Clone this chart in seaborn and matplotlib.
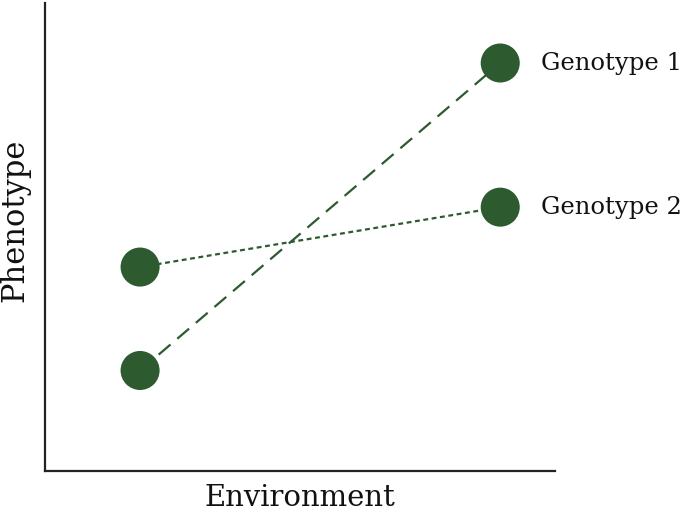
import pandas as pd
import matplotlib.pyplot as plt
import seaborn as sns

# data
environment = [0, 1]
genotype_1 = [2.15, 8.72]
genotype_2 = [4.36, 5.64]
genotypes = ["Genotype 1", "Genotype 2"]

df = pd.DataFrame({
    "Environment": environment * 2,
    "Phenotype": genotype_1 + genotype_2,
    "Genotype": [genotypes[0]] * 2 + [genotypes[1]] * 2,
})

green = "#2d5a2f"

sns.set_style("white")
plt.rcParams['font.family'] = ['DejaVu Serif']

fig = plt.figure(figsize=(6.85, 5.16), dpi=100)
ax = fig.add_axes([0.0657, 0.087, 0.745, 0.907])

dash_styles = {"Genotype 1": (0, (7, 4)), "Genotype 2": (0, (2.2, 1.6))}
for g in genotypes:
    sub = df[df["Genotype"] == g]
    sns.lineplot(data=sub, x="Environment", y="Phenotype", color=green,
                 linewidth=1.6, linestyle=dash_styles[g], ax=ax, zorder=2)

sns.scatterplot(data=df, x="Environment", y="Phenotype", color=green,
                s=790, edgecolor="none", ax=ax, zorder=3, legend=False)

# labels next to the right-hand points
for g, vals in zip(genotypes, [genotype_1, genotype_2]):
    ax.annotate(g, (environment[1], vals[1]), xytext=(29, 0), textcoords="offset points",
                va="center", ha="left", fontsize=17.5, color="#111111", annotation_clip=False)

ax.set_xlim(-0.264, 1.153)
ax.set_ylim(0, 10)
ax.set_xticks([])
ax.set_yticks([])
ax.set_xlabel("Environment", fontsize=21, labelpad=9, color="#111111")
ax.set_ylabel("Phenotype", fontsize=22, color="#111111")
ax.yaxis.set_label_coords(-0.028, 0.535)

for side in ["top", "right"]:
    ax.spines[side].set_visible(False)
for side in ["left", "bottom"]:
    ax.spines[side].set_color("#222222")
    ax.spines[side].set_linewidth(1.6)

plt.savefig("out.png", dpi=100)
plt.close()
